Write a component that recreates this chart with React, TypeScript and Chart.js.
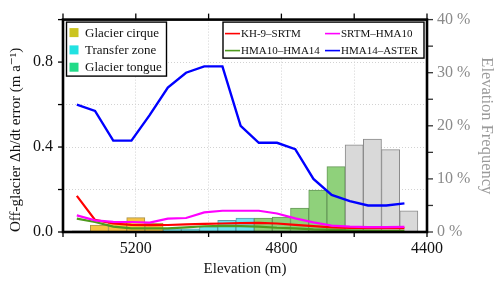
import { useEffect, useRef } from 'react';
import { Chart, registerables } from 'chart.js';

Chart.register(...registerables);

// ---- data ----
const binElevations = [5350, 5300, 5250, 5200, 5150, 5100, 5050, 5000, 4950, 4900, 4850, 4800, 4750, 4700, 4650, 4600, 4550, 4500, 4450];
const cirqueFreq = [null, 1.3, 1.9, 2.7, 1.7, null, null, null, null, null, null, null, null, null, null, null, null, null, null];
const transferFreq = [null, null, null, null, null, 0.6, 0.6, 1.0, 2.2, 2.6, null, null, null, null, null, null, null, null, null];
const tongueFreq = [null, null, null, null, null, null, null, null, null, null, 2.6, 2.8, 4.5, 7.9, 12.3, null, null, null, null];
const otherFreq = [0.2, null, null, null, null, null, null, null, null, null, null, null, null, null, null, 16.4, 17.5, 15.5, 4.0];

const lineElevations = [5362, 5312, 5262, 5212, 5162, 5112, 5062, 5012, 4962, 4912, 4862, 4812, 4762, 4712, 4662, 4612, 4562, 4512, 4462];
const kh9Srtm = [0.17, 0.057, 0.040, 0.034, 0.032, 0.033, 0.036, 0.038, 0.040, 0.042, 0.043, 0.040, 0.034, 0.028, 0.022, 0.019, 0.018, 0.018, 0.018];
const srtmHma10 = [0.078, 0.055, 0.048, 0.047, 0.044, 0.063, 0.066, 0.092, 0.10, 0.10, 0.10, 0.087, 0.064, 0.045, 0.030, 0.025, 0.023, 0.023, 0.024];
const hma10Hma14 = [0.063, 0.047, 0.025, 0.017, 0.017, 0.017, 0.022, 0.027, 0.029, 0.028, 0.025, 0.020, 0.017, 0.012, 0.010, 0.008, 0.007, 0.006, 0.006];
const hma14Aster = [0.60, 0.57, 0.43, 0.43, 0.55, 0.68, 0.75, 0.78, 0.78, 0.50, 0.42, 0.42, 0.39, 0.25, 0.175, 0.145, 0.125, 0.125, 0.135];

const xTickLabels = [5200, 4800, 4400];
const leftTickLabels = [0, 0.4, 0.8];
const rightTickLabels = [0, 10, 20, 30, 40];

const barLegend = [
  { label: 'Glacier cirque', color: '#CBC41F' },
  { label: 'Transfer zone', color: '#22E2E2' },
  { label: 'Glacier tongue', color: '#22DB88' },
];
const lineLegend = [
  { label: 'KH-9–SRTM', color: '#FF0000' },
  { label: 'SRTM–HMA10', color: '#FF00FF' },
  { label: 'HMA10–HMA14', color: '#4E9A1E' },
  { label: 'HMA14–ASTER', color: '#0000FF' },
];

const FONT = "'Liberation Serif', 'DejaVu Serif', serif";

function pts(xs: number[], ys: (number | null)[]) {
  const out: { x: number; y: number }[] = [];
  xs.forEach((x, i) => {
    const y = ys[i];
    if (y !== null && y !== undefined) out.push({ x, y });
  });
  return out;
}

const overlayPlugin = {
  id: 'overlay',
  afterDatasetsDraw(chart: any) {
    const { ctx, chartArea: a, scales } = chart;
    ctx.save();
    ctx.strokeStyle = '#000';
    ctx.lineWidth = 1.3;
    const seg = (x1: number, y1: number, x2: number, y2: number) => {
      ctx.beginPath();
      ctx.moveTo(x1, y1);
      ctx.lineTo(x2, y2);
      ctx.stroke();
    };
    for (const t of scales.x.ticks) {
      const px = scales.x.getPixelForValue(t.value);
      seg(px, a.bottom, px, a.bottom + 5);
      seg(px, a.top, px, a.top - 6);
    }
    for (const t of scales.y.ticks) {
      const py = scales.y.getPixelForValue(t.value);
      seg(a.left, py, a.left - 5, py);
    }
    ctx.strokeStyle = '#333';
    for (const t of scales.y2.ticks) {
      const py = scales.y2.getPixelForValue(t.value);
      seg(a.right, py, a.right + 6, py);
    }
    ctx.strokeStyle = '#000';
    ctx.lineWidth = 2.6;
    ctx.strokeRect(a.left, a.top, a.right - a.left, a.bottom - a.top);
    ctx.restore();
  },
  afterDraw(chart: any) {
    const { ctx, chartArea: a } = chart;
    ctx.save();
    // left legend (zones)
    let bx = a.left + 3.5, by = a.top + 2.5, bw = 100, bh = 54;
    ctx.fillStyle = '#fff';
    ctx.fillRect(bx, by, bw, bh);
    ctx.strokeStyle = '#000';
    ctx.lineWidth = 1.4;
    ctx.strokeRect(bx, by, bw, bh);
    ctx.font = `13px ${FONT}`;
    ctx.textBaseline = 'middle';
    ctx.textAlign = 'left';
    barLegend.forEach((it, i) => {
      const cy = by + 10.5 + i * 17.3;
      ctx.fillStyle = it.color;
      ctx.fillRect(bx + 3, cy - 4.5, 9, 9);
      ctx.fillStyle = '#111';
      ctx.fillText(it.label, bx + 18.5, cy + 0.5);
    });
    // right legend (lines)
    bx = 223; by = a.top + 2.5; bw = 201; bh = 36;
    ctx.fillStyle = '#fff';
    ctx.fillRect(bx, by, bw, bh);
    ctx.strokeStyle = '#000';
    ctx.lineWidth = 1.4;
    ctx.strokeRect(bx, by, bw, bh);
    ctx.font = `11px ${FONT}`;
    lineLegend.forEach((it, i) => {
      const col = i % 2, row = Math.floor(i / 2);
      const cy = by + 11.5 + row * 17;
      const lx = bx + 2 + col * 100;
      ctx.strokeStyle = it.color;
      ctx.lineWidth = 1.6;
      ctx.beginPath();
      ctx.moveTo(lx, cy);
      ctx.lineTo(lx + 15, cy);
      ctx.stroke();
      ctx.fillStyle = '#111';
      ctx.fillText(it.label, lx + 16, cy + 0.5);
    });
    ctx.restore();
  },
};

export default function App() {
  const ref = useRef<HTMLCanvasElement | null>(null);
  useEffect(() => {
    if (!ref.current) return;
    Chart.defaults.font.family = FONT;
    const barCommon = { yAxisID: 'y2', borderWidth: 1, barPercentage: 1, categoryPercentage: 1, grouped: false, order: 5 };
    const lineCommon = { type: 'line' as const, yAxisID: 'y', pointRadius: 0, tension: 0, fill: false, order: 1 };
    const chart = new Chart(ref.current, {
      type: 'bar',
      data: {
        datasets: [
          { ...barCommon, label: 'Glacier cirque', data: pts(binElevations, cirqueFreq), backgroundColor: '#F6C243', borderColor: '#A8924A' },
          { ...barCommon, label: 'Transfer zone', data: pts(binElevations, transferFreq), backgroundColor: '#6FE4F1', borderColor: '#5A9FAA' },
          { ...barCommon, label: 'Glacier tongue', data: pts(binElevations, tongueFreq), backgroundColor: '#8FD17B', borderColor: '#67985A' },
          { ...barCommon, label: 'Other', data: pts(binElevations, otherFreq), backgroundColor: '#D9D9D9', borderColor: '#8A8A8A' },
          { ...lineCommon, label: 'HMA14–ASTER', data: pts(lineElevations, hma14Aster), borderColor: '#0000FF', borderWidth: 2.4 },
          { ...lineCommon, label: 'SRTM–HMA10', data: pts(lineElevations, srtmHma10), borderColor: '#FF00FF', borderWidth: 2.2 },
          { ...lineCommon, label: 'HMA10–HMA14', data: pts(lineElevations, hma10Hma14), borderColor: '#4E9A1E', borderWidth: 2.2 },
          { ...lineCommon, label: 'KH-9–SRTM', data: pts(lineElevations, kh9Srtm), borderColor: '#FF0000', borderWidth: 2.2 },
        ] as any,
      },
      options: {
        responsive: false,
        animation: false,
        layout: { padding: { top: 14, left: 0, right: 0, bottom: 0 } },
        plugins: { legend: { display: false }, tooltip: { enabled: false } },
        scales: {
          x: {
            type: 'linear',
            reverse: true,
            min: 4400,
            max: 5400,
            offset: false,
            grid: { color: '#d2d2d2', drawTicks: false, offset: false, lineWidth: 1 },
            border: { display: false, dash: [1, 2] },
            ticks: {
              stepSize: 200,
              autoSkip: false,
              maxRotation: 0,
              padding: 7,
              color: '#111',
              font: { family: FONT, size: 16 },
              callback: (v: any) => (xTickLabels.includes(Number(v)) ? String(v) : ''),
            },
            title: { display: true, text: 'Elevation (m)', color: '#111', font: { family: FONT, size: 15 }, padding: { top: 0, bottom: 6 } },
            afterFit: (s: any) => { s.height = 52; },
          },
          y: {
            position: 'left',
            min: 0,
            max: 1,
            grid: { color: '#d2d2d2', drawTicks: false, lineWidth: 1 },
            border: { display: false, dash: [1, 2] },
            ticks: {
              stepSize: 0.2,
              autoSkip: false,
              padding: 10,
              color: '#111',
              font: { family: FONT, size: 16 },
              callback: (v: any) => (leftTickLabels.some((t) => Math.abs(t - Number(v)) < 1e-9) ? Number(v).toFixed(1) : ''),
            },
            title: { display: true, align: 'start', text: 'Off-glacier Δh/dt error (m a⁻¹)', color: '#111', font: { family: FONT, size: 15 }, padding: { top: 7, bottom: 0 } },
            afterFit: (s: any) => { s.width = 63; },
          },
          y2: {
            position: 'right',
            min: 0,
            max: 40,
            grid: { display: false, drawTicks: false },
            border: { display: false },
            ticks: {
              stepSize: 5,
              autoSkip: false,
              padding: 10,
              color: '#8a8a8a',
              font: { family: FONT, size: 16 },
              callback: (v: any) => (rightTickLabels.includes(Number(v)) ? `${v} %` : ''),
            },
            title: { display: true, text: 'Elevation Frequency', color: '#9a9a9a', font: { family: FONT, size: 16.5 }, padding: { top: 4, bottom: 0 } },
            afterFit: (s: any) => { s.width = 73; },
          },
        },
      } as any,
      plugins: [overlayPlugin],
    });
    return () => chart.destroy();
  }, []);
  return (
    <div style={{ position: 'absolute', left: 0, top: 0, width: 500, height: 284, background: '#fff' }}>
      <canvas ref={ref} width={500} height={284} style={{ width: 500, height: 284, display: 'block' }} />
    </div>
  );
}
